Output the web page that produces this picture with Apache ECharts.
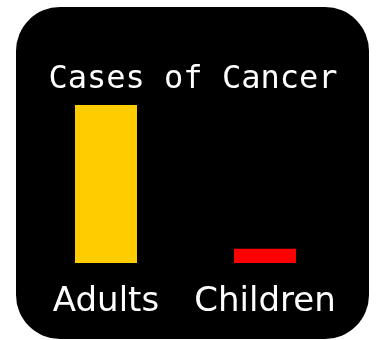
<!DOCTYPE html>
<html>
<head>
<meta charset="utf-8">
<script src="https://cdn.jsdelivr.net/npm/echarts@6/dist/echarts.min.js"></script>
<style>html,body{margin:0;padding:0;background:#fff}#c{width:378px;height:340px}</style>
</head>
<body>
<div id="c"></div>
<script>
const categories = ["Adults", "Children"];
const values = [100, 9];
const barColors = ["#FFCC00", "#FF0000"];
const titleText = "Cases of Cancer";

const chart = echarts.init(document.getElementById('c'), null, {renderer: 'canvas'});
chart.setOption({
  animation: false,
  backgroundColor: '#ffffff',
  graphic: [{
    type: 'rect',
    z: -10,
    shape: {x: 16, y: 7, width: 353, height: 332, r: 44},
    style: {fill: '#000000'}
  }],
  title: {
    text: titleText,
    left: 188,
    top: 59,
    textAlign: 'center',
    textStyle: {color: '#ffffff', fontFamily: 'DejaVu Sans Mono', fontSize: 32, fontWeight: 'normal'}
  },
  grid: {left: 26.5, width: 318, top: 105, height: 158, containLabel: false},
  xAxis: {
    type: 'category',
    data: categories,
    axisLine: {show: false},
    axisTick: {show: false},
    axisLabel: {color: '#ffffff', fontFamily: 'DejaVu Sans', fontSize: 34, margin: 22, interval: 0, hideOverlap: false}
  },
  yAxis: {
    type: 'value',
    min: 0,
    max: 100,
    show: false,
    splitLine: {show: false}
  },
  series: [{
    type: 'bar',
    barWidth: 62,
    data: values.map((v, i) => ({value: v, itemStyle: {color: barColors[i]}}))
  }]
});
</script>
</body>
</html>
